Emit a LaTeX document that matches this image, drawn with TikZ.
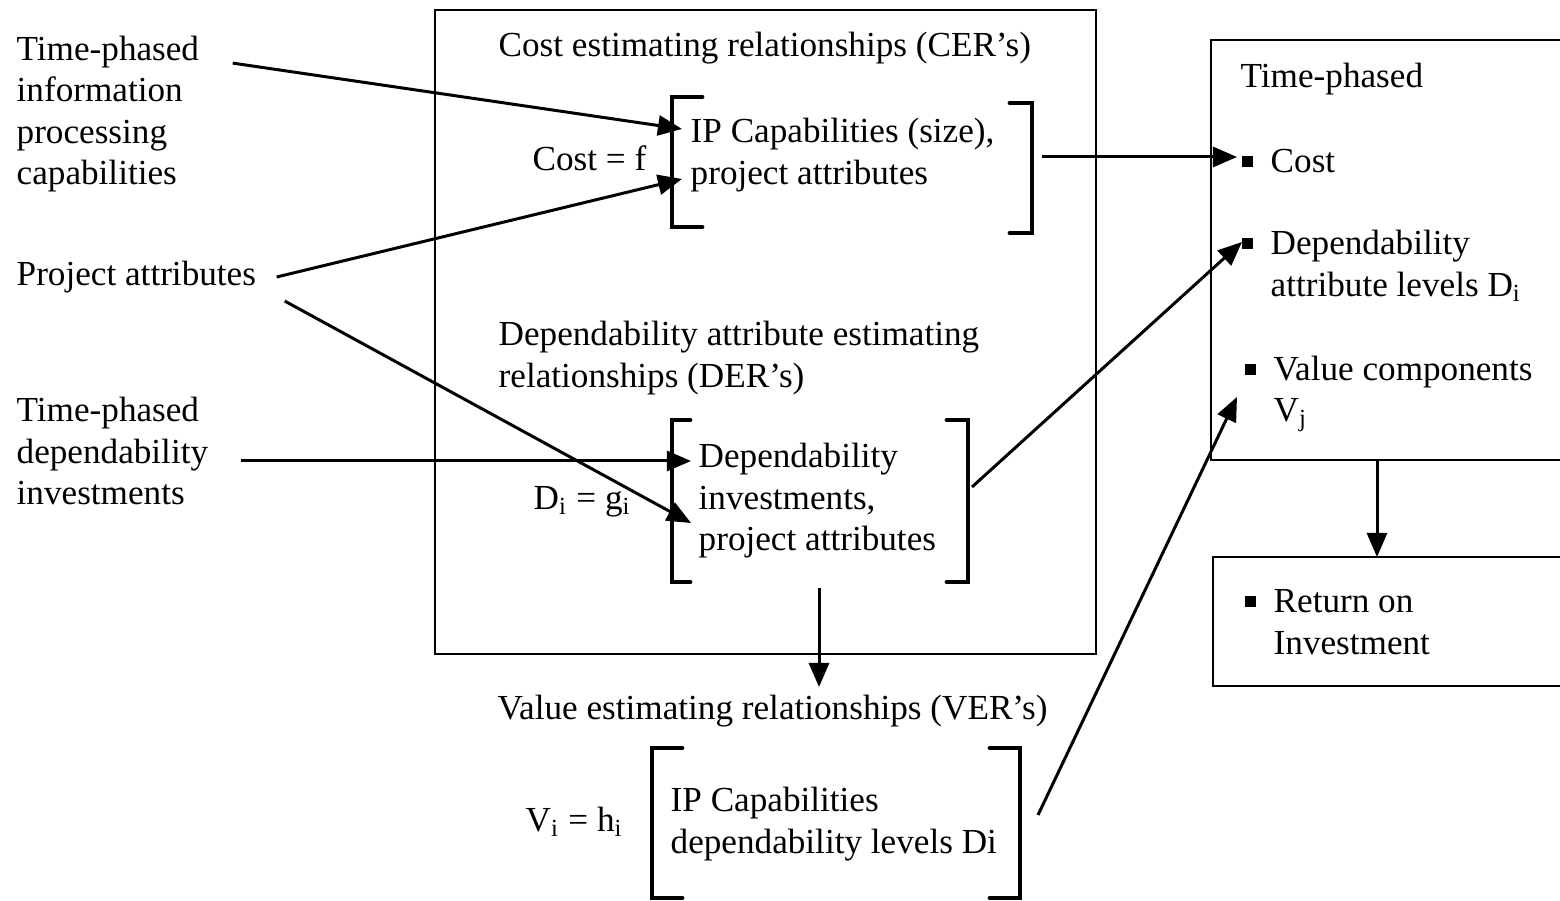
\documentclass[tikz,border=0pt]{standalone}
\usepackage{fontspec}
\setmainfont{Liberation Serif}
\usetikzlibrary{arrows.meta}

\newcommand{\sqbullet}{\llap{\rule[1.6pt]{3.1pt}{3.1pt}\hspace{5pt}}}

\tikzset{
  lbl/.style={inner sep=0pt, anchor=west, align=left, yshift=-0.02cm},
  frame/.style={line width=0.55pt},
  brack/.style={line width=1.4pt, line cap=round},
  link/.style={line width=0.85pt},
  arr/.style={line width=0.85pt, -{Triangle[length=0.24cm,width=0.2cm]}},
}

\begin{document}
\begin{tikzpicture}[x=0.01cm, y=-0.01cm, font=\fontsize{10}{11.8}\selectfont]
  \useasboundingbox (0,0) rectangle (1560,901);

  % frames
  \draw[frame] (435,10) rectangle (1096,654);
  \draw[frame] (1560,40) -- (1211,40) -- (1211,460) -- (1560,460);
  \draw[frame] (1560,557) -- (1213,557) -- (1213,686) -- (1560,686);

  % inputs on the left
  \node[lbl] (ipcap) at (16,112) {Time-phased\\information\\processing\\capabilities};
  \node[lbl] (projattr) at (16,275) {Project attributes};
  \node[lbl] (depinv) at (16,449) {Time-phased\\dependability\\investments};

  % CER
  \node[lbl] (cerhead) at (498,46) {Cost estimating relationships (CER’s)};
  \node[lbl] (costf) at (532,156) {Cost = f};
  \node[lbl] (cerbody) at (690,153) {IP Capabilities (size),\\project attributes};
  \draw[brack] (702,97) -- (672,97) -- (672,227) -- (702,227);
  \draw[brack] (1010,103) -- (1032,103) -- (1032,233) -- (1010,233);

  % DER
  \node[lbl] (derhead) at (498,356) {Dependability attribute estimating\\relationships (DER’s)};
  \node[lbl] (dig) at (533,500) {D\textsubscript{i} = g\textsubscript{i}};
  \node[lbl] (derbody) at (698,499) {Dependability\\investments,\\project attributes};
  \draw[brack] (690,420) -- (672,420) -- (672,582) -- (690,582);
  \draw[brack] (947,420) -- (968,420) -- (968,582) -- (947,582);

  % VER
  \node[lbl] (verhead) at (497,709) {Value estimating relationships (VER’s)};
  \node[lbl] (vih) at (525,820) {V\textsubscript{i} = h\textsubscript{i}};
  \node[lbl] (verbody) at (670,822) {IP Capabilities\\dependability levels Di};
  \draw[brack] (682,748) -- (652,748) -- (652,898) -- (682,898);
  \draw[brack] (990,748) -- (1020,748) -- (1020,898) -- (990,898);

  % outputs on the right
  \node[lbl] (tphead) at (1240,77) {Time-phased};
  \node[lbl] (cost) at (1270,159) {\sqbullet Cost};
  \node[lbl] (deplev) at (1270,264) {\sqbullet Dependability\\attribute levels D\textsubscript{i}};
  \node[lbl] (valcomp) at (1273,392) {\sqbullet Value components\\V\textsubscript{j}};
  \node[lbl] (roi) at (1273,620) {\sqbullet Return on\\Investment};

  % connector ends
  \coordinate (cerin1) at (682,129);
  \coordinate (cerin2) at (682,179);
  \coordinate (derin1) at (691,461);
  \coordinate (derin2) at (691,523);
  \coordinate (cerout) at (1042,157);
  \coordinate (derout) at (972,487);
  \coordinate (derdown) at (819,588);
  \coordinate (verin) at (819,687);
  \coordinate (verout) at (1038,815);
  \coordinate (costin) at (1237,157);
  \coordinate (deplevin) at (1242,242);
  \coordinate (valin) at (1237,397);
  \coordinate (tpout) at (1377,460);
  \coordinate (roiin) at (1377,557);

  % arrows
  \draw[arr] ([shift={(0.33cm,-0.28cm)}]ipcap.north east) -- (cerin1);
  \draw[arr] ([xshift=0.2cm]projattr.east) -- (cerin2);
  \draw[arr] ([shift={(0.28cm,-0.24cm)}]projattr.east) -- (derin2);
  \draw[arr] ([xshift=0.32cm]depinv.east |- derin1) -- (derin1);
  \draw[arr] (cerout) -- (costin);
  \draw[arr] (derout) -- (deplevin);
  \draw[arr] (derdown) -- (verin);
  \draw[arr] (verout) -- (valin);
  \draw[arr] (tpout) -- (roiin);
\end{tikzpicture}
\end{document}
